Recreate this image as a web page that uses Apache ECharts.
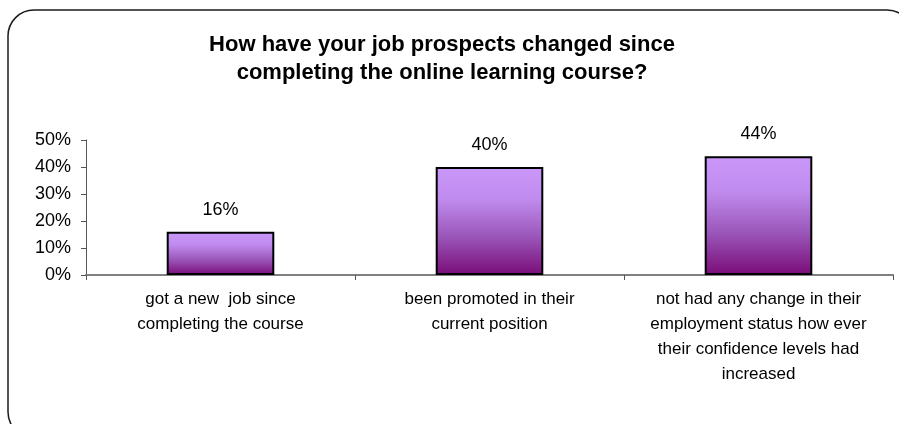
<!DOCTYPE html>
<html>
<head>
<meta charset="utf-8">
<style>
  html, body { margin: 0; padding: 0; background: #fff; }
  #chart { width: 899px; height: 424px; }
</style>
<script src="https://cdn.jsdelivr.net/npm/echarts@6/dist/echarts.min.js"></script>
</head>
<body>
<div id="chart"></div>
<script>
// Survey answers and their shares (percent)
const categories = [
  'got a new  job since\ncompleting the course',
  'been promoted in their\ncurrent position',
  'not had any change in their\nemployment status how ever\ntheir confidence levels had\nincreased'
];
const shares = [16, 40, 44];
const yTicks = [0, 10, 20, 30, 40, 50];

const chart = echarts.init(document.getElementById('chart'));
const font = '"Liberation Sans", Arial, sans-serif';

chart.setOption({
  animation: false,
  backgroundColor: '#ffffff',
  textStyle: { fontFamily: font },
  graphic: [{
    type: 'rect',
    shape: { x: 8, y: 10, width: 905, height: 428, r: 26 },
    style: { fill: 'none', stroke: '#1a1a1a', lineWidth: 1.5 },
    silent: true,
    z: -1
  }],
  title: {
    text: 'How have your job prospects changed since\ncompleting the online learning course?',
    left: 437,
    top: 26,
    textAlign: 'center',
    textStyle: {
      fontFamily: font,
      fontSize: 22,
      fontWeight: 'bold',
      color: '#000',
      lineHeight: 28
    }
  },
  grid: { left: 86, right: 6, top: 140, bottom: 149 },
  xAxis: {
    type: 'category',
    data: categories,
    axisLine: { show: true, lineStyle: { color: '#808080', width: 2 } },
    axisTick: { show: true, length: 5, lineStyle: { color: '#555', width: 1 } },
    axisLabel: {
      interval: 0,
      color: '#000',
      fontSize: 17,
      lineHeight: 25,
      margin: 12,
      fontFamily: font
    }
  },
  yAxis: {
    type: 'value',
    min: yTicks[0],
    max: yTicks[yTicks.length - 1],
    interval: 10,
    splitLine: { show: false },
    axisLine: { show: true, lineStyle: { color: '#555', width: 1 } },
    axisTick: { show: true, length: 5, lineStyle: { color: '#555', width: 1 } },
    axisLabel: {
      formatter: '{value}%',
      color: '#000',
      fontSize: 18,
      margin: 15,
      fontFamily: font
    }
  },
  series: [{
    type: 'bar',
    data: shares,
    barCategoryGap: '60%',
    itemStyle: {
      color: new echarts.graphic.LinearGradient(0, 0, 0, 1, [
        { offset: 0, color: '#ca98fa' },
        { offset: 0.3, color: '#c08bee' },
        { offset: 0.65, color: '#9a55b8' },
        { offset: 1, color: '#7a0c78' }
      ]),
      borderColor: '#000',
      borderWidth: 2
    },
    label: {
      show: true,
      position: 'top',
      distance: 13,
      formatter: '{c}%',
      color: '#000',
      fontSize: 18,
      fontFamily: font
    }
  }]
});
</script>
</body>
</html>
